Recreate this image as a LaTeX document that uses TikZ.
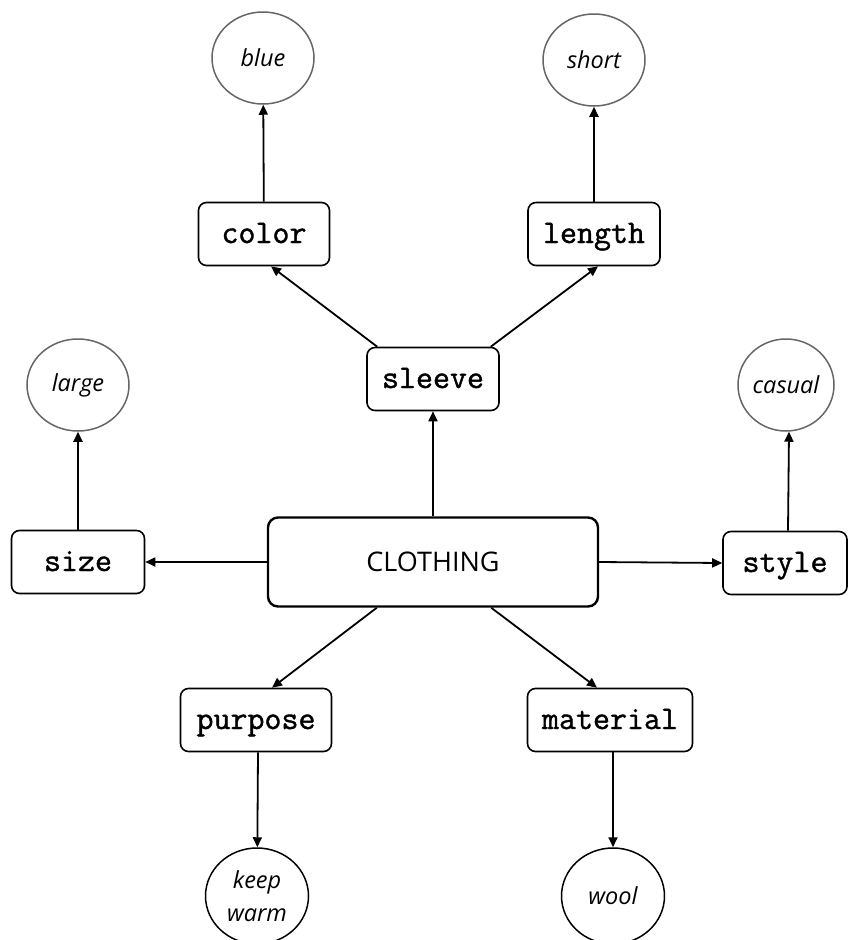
\documentclass[tikz,border=0pt]{standalone}
\usepackage{fontspec}
\setmainfont{Open Sans}
\newfontfamily\codefont[FakeBold=1.2]{Latin Modern Mono}
\usetikzlibrary{shapes.geometric, arrows.meta}

\begin{document}
\begin{tikzpicture}[x=1pt, y=-1pt,
  attr/.style={draw=black, line width=1.6pt, rounded corners=8pt,
    minimum height=63pt, inner sep=0pt, text height=24pt, text depth=6pt,
    font=\codefont\fontsize{33}{36}\selectfont},
  root/.style={draw=black, line width=2.4pt, rounded corners=10pt,
    minimum width=330pt, minimum height=89pt, inner sep=0pt,
    font=\fontsize{27}{32}\selectfont},
  val/.style={ellipse, draw=black!60, line width=1.5pt,
    minimum width=102pt, minimum height=92pt, inner sep=0pt, align=center,
    font=\itshape\fontsize{23.5}{33}\selectfont},
  valdark/.style={val, draw=black},
  link/.style={-{Triangle[length=10pt,width=9pt]}, line width=1.8pt}
]
\useasboundingbox (0,0) rectangle (848,940);

% central concept
\node[root] (clothing) at (433,562) {CLOTHING};

% attributes
\node[attr, minimum width=132pt] (sleeve)   at (433,379) {sleeve};
\node[attr, minimum width=131pt] (color)    at (264,234) {color};
\node[attr, minimum width=132pt] (length)   at (594,234) {length};
\node[attr, minimum width=133pt] (size)     at (78,562)  {size};
\node[attr, minimum width=124pt] (style)    at (785,563) {style};
\node[attr, minimum width=151pt] (purpose)  at (256,720) {purpose};
\node[attr, minimum width=165pt] (material) at (610,720) {material};

% values
\node[val] (blue)   at (263,58)  {blue};
\node[val] (short)  at (594,60)  {short};
\node[val] (large)  at (78,385)  {large};
\node[val, minimum width=96pt] (casual) at (786,385) {casual};
\node[valdark, minimum width=103pt, minimum height=96pt] (keep) at (257,896) {keep\\warm};
\node[valdark, minimum width=103pt, minimum height=96pt] (wool) at (613,896) {wool};

% connectors
\draw[link] (clothing) -- (sleeve);
\draw[link] ([xshift=11pt]sleeve.north west) -- ([xshift=7pt]color.south);
\draw[link] ([xshift=-9pt]sleeve.north east) -- ([xshift=4pt]length.south);
\draw[link] (clothing.west) -- (size.east);
\draw[link] (clothing.east) -- (style.west);
\draw[link] ([xshift=110pt]clothing.south west) -- ([xshift=16pt]purpose.north);
\draw[link] ([xshift=-108pt]clothing.south east) -- ([xshift=-13pt]material.north);

\draw[link] (color) -- (blue);
\draw[link] (length) -- (short);
\draw[link] (size) -- (large);
\draw[link] ([xshift=3pt]style.north) -- ([xshift=3pt]casual.south);
\draw[link] ([xshift=2pt]purpose.south) -- (keep);
\draw[link] ([xshift=3pt]material.south) -- (wool);
\end{tikzpicture}
\end{document}
